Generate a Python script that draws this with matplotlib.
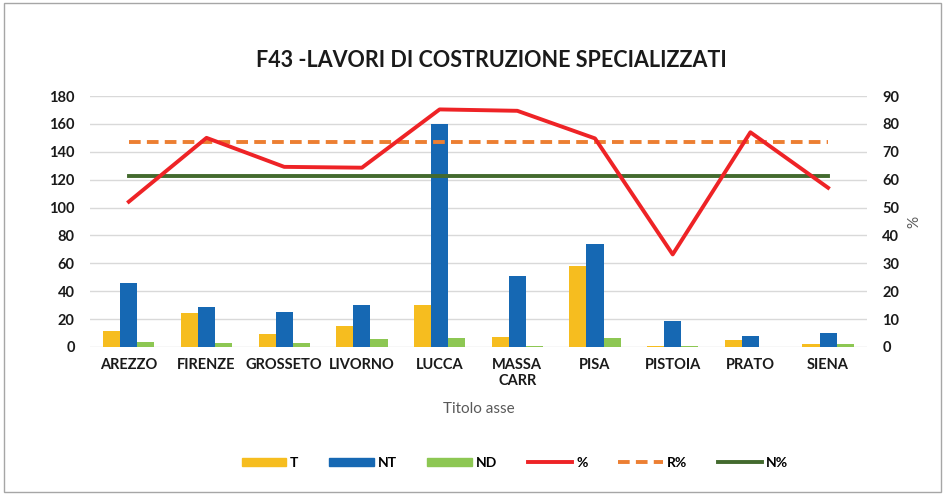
import matplotlib
matplotlib.use("Agg")
import matplotlib.pyplot as plt
import numpy as np
from matplotlib.patches import Rectangle, Patch
from matplotlib.lines import Line2D

plt.rcParams['font.family'] = ['Lato', 'DejaVu Sans']

categories = ["AREZZO", "FIRENZE", "GROSSETO", "LIVORNO", "LUCCA", "MASSA\nCARR", "PISA", "PISTOIA", "PRATO", "SIENA"]
T = [11.3, 24.4, 9, 15, 30.4, 7, 58, 1, 5.3, 2.5]
NT = [46, 28.5, 25, 30, 160, 51, 74, 19, 8, 10]
ND = [3.8, 2.7, 2.7, 5.5, 6.8, 0.5, 6.8, 0.5, 0, 2]
pct = [52.1, 75, 64.6, 64.3, 85.2, 84.7, 74.8, 33.2, 77, 57.1]
R_pct = [73.6] * 10
N_pct = [61.3] * 10

c_T = "#F6BD1F"
c_NT = "#1668B3"
c_ND = "#8DC753"
c_pct = "#EE2326"
c_R = "#EC7F32"
c_N = "#436A2E"

fig = plt.figure(figsize=(9.45, 4.95), dpi=100)
fig.patches.append(Rectangle((0.004, 0.006), 0.992, 0.988, transform=fig.transFigure,
                             fill=False, edgecolor="#A6A6A6", linewidth=1.0))
ax = fig.add_axes([0.0952, 0.299, 0.8222, 0.507])
x = np.arange(len(categories))
w = 0.22
ax.bar(x - w, T, w, color=c_T, zorder=2)
ax.bar(x, NT, w, color=c_NT, zorder=2)
ax.bar(x + w, ND, w, color=c_ND, zorder=2)
ax.set_ylim(0, 180)
ax.set_yticks(range(0, 181, 20))
ax.set_xlim(-0.5, len(categories) - 0.5)
ax.set_xticks(x)
ax.set_xticklabels(categories, fontweight="bold", fontsize=10.5, color="#1a1a1a")
ax.grid(axis="y", color="#D9D9D9", linewidth=1.0, zorder=0)
ax.set_axisbelow(True)
for s in ax.spines.values():
    s.set_visible(False)
ax.tick_params(axis="both", length=0, labelsize=10.5, colors="#1a1a1a")
for lab in ax.get_yticklabels():
    lab.set_fontweight("bold")
ax.tick_params(axis="y", pad=11)
ax.tick_params(axis="x", pad=8)
ax.set_xlabel("Titolo asse", fontsize=11, color="#595959", labelpad=10)

ax2 = ax.twinx()
ax2.plot(x, pct, color=c_pct, linewidth=2.8, zorder=4)
ax2.plot(x, R_pct, color=c_R, linewidth=2.8, linestyle=(0, (3, 1.6)), zorder=3)
ax2.plot(x, N_pct, color=c_N, linewidth=2.8, zorder=3)
ax2.set_ylim(0, 90)
ax2.set_yticks(range(0, 91, 10))
for s in ax2.spines.values():
    s.set_visible(False)
ax2.tick_params(axis="y", length=0, labelsize=10.5, colors="#1a1a1a", pad=11)
for lab in ax2.get_yticklabels():
    lab.set_fontweight("bold")
ax2.set_ylabel("%", fontsize=11, color="#595959", labelpad=6)

fig.text(0.52, 0.878, "F43 -LAVORI DI COSTRUZIONE SPECIALIZZATI", ha="center", va="center",
         fontsize=15.5, fontweight="bold", color="#1a1a1a")

handles = [Patch(color=c_T), Patch(color=c_NT), Patch(color=c_ND),
           Line2D([], [], color=c_pct, linewidth=2.8),
           Line2D([], [], color=c_R, linewidth=2.8, linestyle=(0, (3, 1.6))),
           Line2D([], [], color=c_N, linewidth=2.8)]
labels = ["T", "NT", "ND", "%", "R%", "N%"]
leg = fig.legend(handles, labels, loc="center", bbox_to_anchor=(0.545, 0.065), ncol=6,
                 frameon=False, handlelength=3.2, handleheight=0.6, columnspacing=2.2,
                 handletextpad=0.3, prop={"weight": "bold", "size": 10})
fig.savefig("out.png", dpi=100)
